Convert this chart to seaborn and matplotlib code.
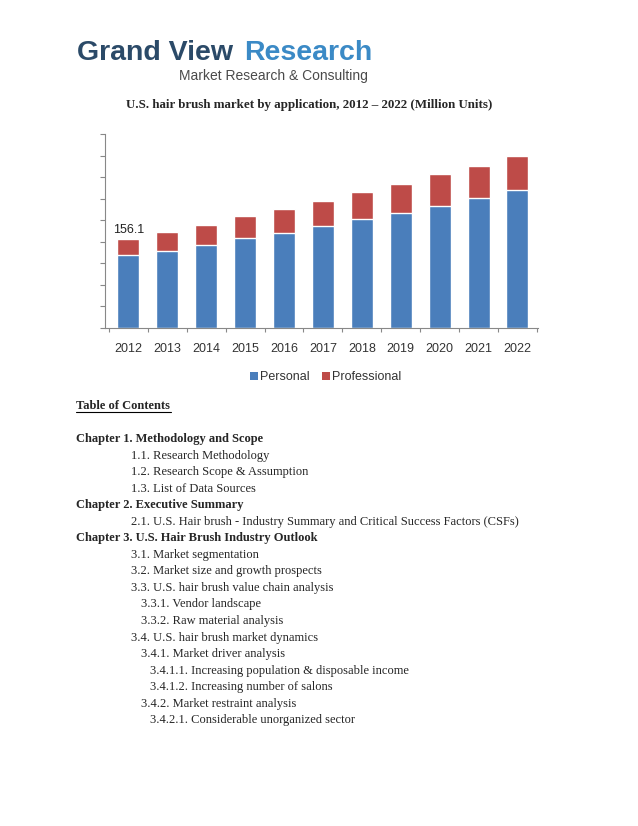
import numpy as np
import pandas as pd
import seaborn as sns
import matplotlib.pyplot as plt
from matplotlib.patches import Patch

# values (million units)
years = ["2012", "2013", "2014", "2015", "2016", "2017", "2018", "2019", "2020", "2021", "2022"]
personal = [127.4, 135.6, 145.6, 157.8, 167.2, 178.9, 191.2, 202.3, 214.5, 227.4, 241.4]
professional = [28.7, 33.4, 35.0, 38.0, 42.1, 43.8, 46.7, 50.8, 55.0, 57.3, 60.2]
series_names = ["Personal", "Professional"]
first_label = "156.1"

toc_lines = [
    ("Chapter 1. Methodology and Scope", 0, True),
    ("1.1. Research Methodology", 1, False),
    ("1.2. Research Scope & Assumption", 1, False),
    ("1.3. List of Data Sources", 1, False),
    ("Chapter 2. Executive Summary", 0, True),
    ("2.1. U.S. Hair brush - Industry Summary and Critical Success Factors (CSFs)", 1, False),
    ("Chapter 3. U.S. Hair Brush Industry Outlook", 0, True),
    ("3.1. Market segmentation", 1, False),
    ("3.2. Market size and growth prospects", 1, False),
    ("3.3. U.S. hair brush value chain analysis", 1, False),
    ("3.3.1. Vendor landscape", 2, False),
    ("3.3.2. Raw material analysis", 2, False),
    ("3.4. U.S. hair brush market dynamics", 1, False),
    ("3.4.1. Market driver analysis", 2, False),
    ("3.4.1.1. Increasing population & disposable income", 3, False),
    ("3.4.1.2. Increasing number of salons", 3, False),
    ("3.4.2. Market restraint analysis", 2, False),
    ("3.4.2.1. Considerable unorganized sector", 3, False),
]

BLUE = "#4a7ebb"
RED = "#be4b48"
W, H = 638, 826

df = pd.DataFrame({"year": years, "personal": personal, "professional": professional})
df["total"] = df["personal"] + df["professional"]

sns.set_style("white")
plt.rcParams["font.family"] = ["Liberation Sans", "DejaVu Sans"]

fig = plt.figure(figsize=(W / 100, H / 100), dpi=100)

def fx(x):
    return x / W

def fy(y):
    return 1 - y / H

# header logo
fig.text(fx(77), fy(60), "Grand View", fontsize=20.5, fontweight="bold", color="#2b4a68",
         va="baseline", ha="left")
fig.text(fx(372), fy(60), "Research", fontsize=20.5, fontweight="bold", color="#3b8ac6",
         va="baseline", ha="right")
fig.text(fx(368), fy(80), "Market Research & Consulting", fontsize=10, color="#4a4a4a",
         va="baseline", ha="right")

# chart title
fig.text(fx(309), fy(105), "U.S. hair brush market by application, 2012 \u2013 2022 (Million Units)",
         fontsize=9.4, fontweight="bold", family=["Liberation Serif", "DejaVu Serif"],
         ha="center", va="center")

# chart
ax = fig.add_axes([fx(105), fy(328), (537.7 - 105) / W, (328 - 134) / H])
sns.barplot(data=df, x="year", y="total", color=RED, width=0.566, saturation=1, ax=ax)
sns.barplot(data=df, x="year", y="personal", color=BLUE, width=0.566, saturation=1, ax=ax)
ax.set_xlim(-0.6, 10.52)
ytop = 340
ax.set_ylim(0, ytop)
ax.set_yticks(np.linspace(0, ytop, 10))
ax.set_yticklabels([])
ax.set_xticks(np.arange(-0.5, 10.6, 1), minor=True)
ax.tick_params(axis="x", which="major", bottom=False, length=0, labelsize=9,
               labelcolor="#333333", pad=11)
ax.tick_params(axis="x", which="minor", bottom=True, length=3, color="#888888", width=0.8,
               direction="out")
ax.tick_params(axis="y", left=True, length=3.5, color="#888888", width=0.8, direction="out")
ax.set_xlabel("")
ax.set_ylabel("")
for side in ["top", "right"]:
    ax.spines[side].set_visible(False)
for side in ["left", "bottom"]:
    ax.spines[side].set_color("#888888")
    ax.spines[side].set_linewidth(0.8)
ax.text(0, df["total"][0] + 6, first_label, ha="center", va="bottom", fontsize=9, color="#222222")

handles = [Patch(facecolor=BLUE, edgecolor="none"), Patch(facecolor=RED, edgecolor="none")]
fig.legend(handles, series_names, loc="center", bbox_to_anchor=(fx(326), fy(377)), ncol=2,
           frameon=False, fontsize=9, handlelength=0.6, handleheight=0.6, handletextpad=0.2,
           columnspacing=1.0, labelcolor="#333333")

# table of contents
serif = ["Liberation Serif", "DejaVu Serif"]
fig.text(fx(76), fy(406), "Table of Contents", fontsize=9, fontweight="bold",
         family=serif, ha="left", va="center")
fig.add_artist(plt.Line2D([fx(76), fx(171)], [fy(412), fy(412)], color="black", lw=0.8))
indent = [76, 131, 141, 150.5]
y = 439
for text, level, bold in toc_lines:
    fig.text(fx(indent[level]), fy(y), text, fontsize=9, family=serif,
             fontweight="bold" if bold else "normal", ha="left", va="center")
    y += 16.55

fig.savefig("out.png", dpi=100, facecolor="white")
